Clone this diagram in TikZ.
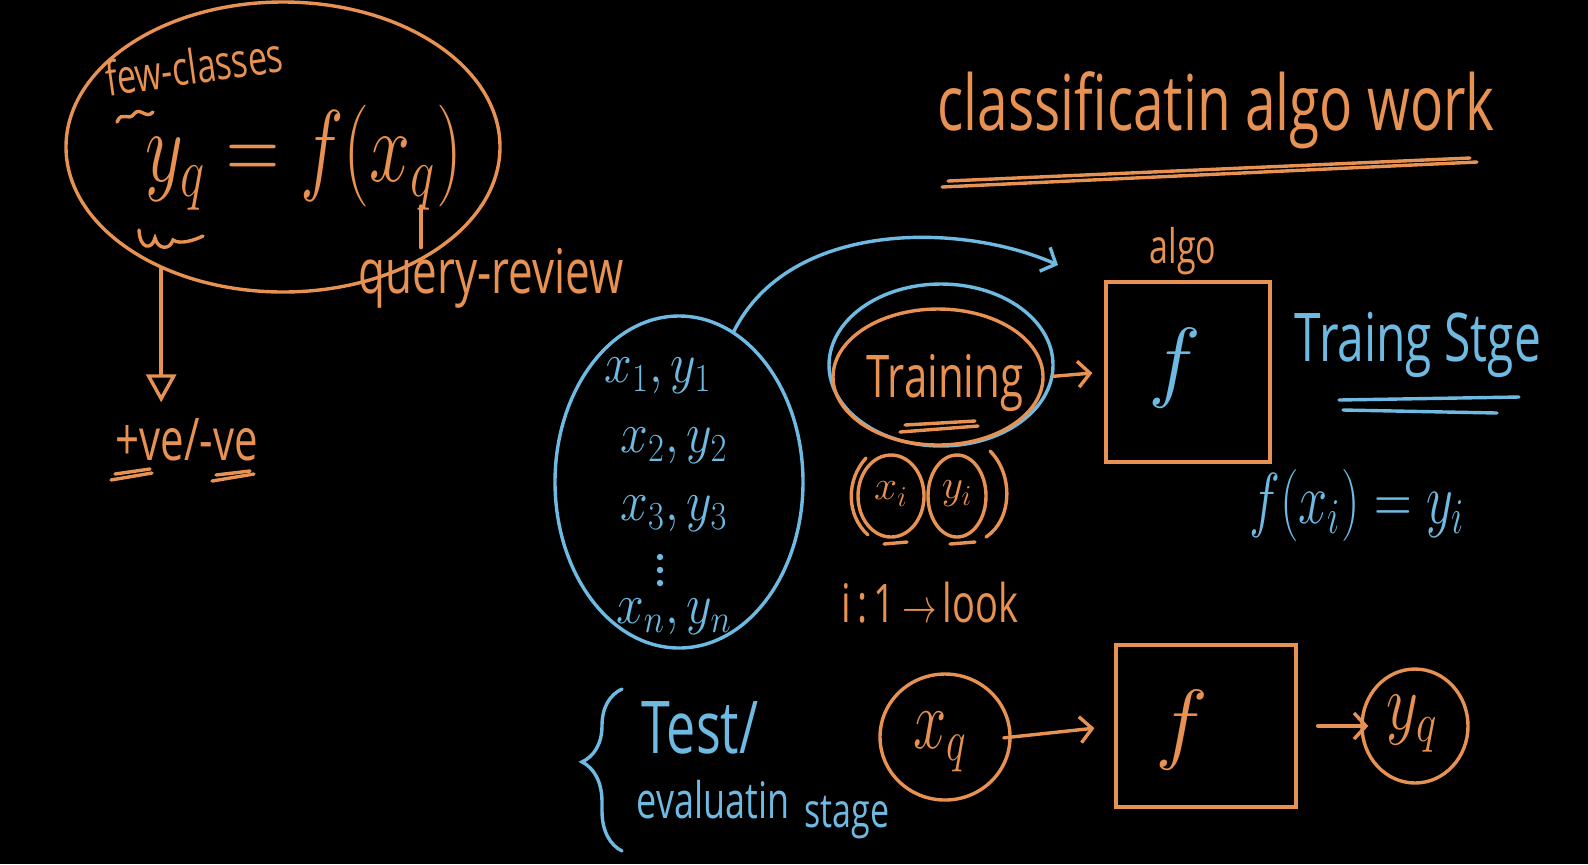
\documentclass[tikz,border=0pt]{standalone}
\usepackage{fontspec}
\setmainfont{Open Sans}
\usepackage{amsmath}
\usepackage{graphicx}
\usetikzlibrary{arrows.meta,shapes.geometric,decorations.pathreplacing}
\definecolor{penorange}{RGB}{231,145,82}
\definecolor{penblue}{RGB}{110,186,226}
\newcommand{\txtsize}[1]{\fontsize{#1}{#1}\selectfont}
\newcommand{\tallbox}[1]{\scalebox{1}[1.4]{#1}}

\begin{document}
\begin{tikzpicture}[x=0.5pt,y=-0.5pt,
  orng/.style={draw=penorange,line width=1.7pt,line cap=round},
  blu/.style={draw=penblue,line width=1.7pt,line cap=round},
  otext/.style={text=penorange,inner sep=0pt},
  btext/.style={text=penblue,inner sep=0pt},
  barb/.style={-{Straight Barb[length=6pt,width=13pt]}}]
  \fill[black] (0,0) rectangle (1588,864);
  \useasboundingbox (0,0) rectangle (1588,864);

  % query equation
  \node[orng,ellipse,minimum width=217pt,minimum height=145pt] (eqblob) at (283,147) {};
  \node[otext,rotate=8] (fewcls) at (194,66) {\txtsize{17pt}\tallbox{few-classes}};
  \node[otext] (yeq) at (304,158) {\txtsize{24pt}\scalebox{1.48}[2.05]{$y_q = f(x_q)$}};
  \draw[orng] (117,122) .. controls (122,110) and (128,122) .. (134,114) .. controls (140,106) and (146,120) .. (153,112);
  \draw[orng] (139,230) .. controls (140,250) and (152,250) .. (155,238) .. controls (158,250) and (170,250) .. (173,240) .. controls (180,245) and (195,240) .. (203,236);
  \node[otext] (query) at (491,278) {\txtsize{22pt}\tallbox{query-review}};
  \coordinate (xqfoot) at (421,206);
  \draw[orng] (xqfoot) -- (xqfoot |- query.north);
  \node[otext] (posneg) at (187,440) {\txtsize{21pt}\tallbox{+ve/-ve}};
  \draw[orng,-{Triangle[open,length=14pt,width=15pt]},shorten >=8pt] (eqblob.225) -- (eqblob.225 |- posneg.north);
  \draw[orng] (111,480) -- (152,473);
  \draw[orng] (115,474) -- (150,469);
  \draw[orng] (212,481) -- (254,474);
  \draw[orng] (216,475) -- (250,471);

  % title
  \node[otext] (title) at (1216,110) {\txtsize{27.5pt}\tallbox{classificatin algo work}};
  \draw[orng] (942,187) -- (1477,162);
  \draw[orng] (948,181) -- (1470,158);

  % training stage
  \node[blu,ellipse,minimum width=124pt,minimum height=166pt] (datablob) at (679,482) {};
  \node[btext] (pair1) at (658,376) {\txtsize{24pt}\scalebox{1}[1.15]{$x_1, y_1$}};
  \node[btext] (pair2) at (674,446) {\txtsize{24pt}\scalebox{1}[1.15]{$x_2, y_2$}};
  \node[btext] (pair3) at (674,514) {\txtsize{24pt}\scalebox{1}[1.15]{$x_3, y_3$}};
  \foreach \dy in {557,570,583}
    \fill[penblue] (660,\dy) circle (1.6pt);
  \node[btext] (pairn) at (674,617) {\txtsize{24pt}\scalebox{1}[1.15]{$x_n, y_n$}};
  \node[blu,ellipse,minimum width=112pt,minimum height=81pt] (trainout) at (941,365) {};
  \node[orng,ellipse,minimum width=105pt,minimum height=68pt] (trainin) at (938,377) {};
  \node[otext] (traintxt) at (945,383) {\txtsize{21pt}\tallbox{Training}};
  \draw[orng] (900,432) -- (978,426);
  \draw[orng] (905,425) -- (975,421);
  \coordinate (algoin) at (1058,265);
  \draw[blu,barb] (datablob.70) .. controls (790,220) and (960,222) .. (algoin);
  \node[orng,rectangle,minimum width=82pt,minimum height=90pt] (algobox) at (1188,372) {};
  \node[otext] (algolbl) at (1183,251) {\txtsize{17pt}\tallbox{algo}};
  \node[btext] (algof) at (1175,368) {\txtsize{24pt}\scalebox{1.8}{$f$}};
  \draw[orng,barb,shorten <=4pt,shorten >=6pt] (trainin.east) -- (algobox.west);
  \node[btext] (stagelbl) at (1418,345) {\txtsize{24pt}\tallbox{Traing Stge}};
  \draw[blu] (1339,400) -- (1519,397);
  \draw[blu] (1343,410) -- (1497,413);
  \node[btext] (fxy) at (1357,505) {\txtsize{24pt}\scalebox{1.05}[1.45]{$f(x_i) = y_i$}};

  % one pair
  \node[orng,ellipse,minimum width=33pt,minimum height=41pt] (xic) at (891,496) {};
  \node[orng,ellipse,minimum width=29pt,minimum height=41pt] (yic) at (957,496) {};
  \node[otext] (xitxt) at (891,494) {\txtsize{22pt}$x_i$};
  \node[otext] (yitxt) at (957,494) {\txtsize{22pt}$y_i$};
  \draw[orng] (866,458) .. controls (846,480) and (846,515) .. (868,535);
  \draw[orng] (990,451) .. controls (1014,475) and (1012,520) .. (986,537);
  \draw[orng] (884,544) -- (907,542);
  \draw[orng] (950,544) -- (975,542);
  \node[otext] (looklbl) at (930,603) {\txtsize{19pt}\tallbox{i\,:\,1\,$\rightarrow$\,look}};

  % test stage
  \draw[blu,decorate,decoration={brace,amplitude=20pt,aspect=0.55}] (622,851) -- (622,689);
  \node[btext] (testlbl) at (700,728) {\txtsize{26pt}\tallbox{Test/}};
  \node[btext] (evallbl) at (713,800) {\txtsize{18pt}\tallbox{evaluatin}};
  \node[btext] (stagelbl2) at (847,818) {\txtsize{17pt}\tallbox{stage}};
  \node[orng,ellipse,minimum width=65pt,minimum height=63pt] (xqc) at (945,737) {};
  \node[otext] (xqtxt) at (940,742) {\txtsize{24pt}\scalebox{1.2}[1.7]{$x_q$}};
  \node[orng,rectangle,minimum width=90pt,minimum height=81pt] (evalbox) at (1206,726) {};
  \node[otext] (evalf) at (1182,730) {\txtsize{24pt}\scalebox{1.8}{$f$}};
  \node[orng,ellipse,minimum width=53pt,minimum height=57pt] (yqc) at (1415,726) {};
  \node[otext] (yqtxt) at (1412,724) {\txtsize{24pt}\scalebox{1.25}[1.6]{$y_q$}};
  \draw[orng,barb,shorten <=-4pt,shorten >=10pt] (xqc.east) -- (evalbox.west);
  \draw[orng,barb,shorten <=10pt,shorten >=-4pt] (evalbox.east) -- (yqc.west);
\end{tikzpicture}
\end{document}
